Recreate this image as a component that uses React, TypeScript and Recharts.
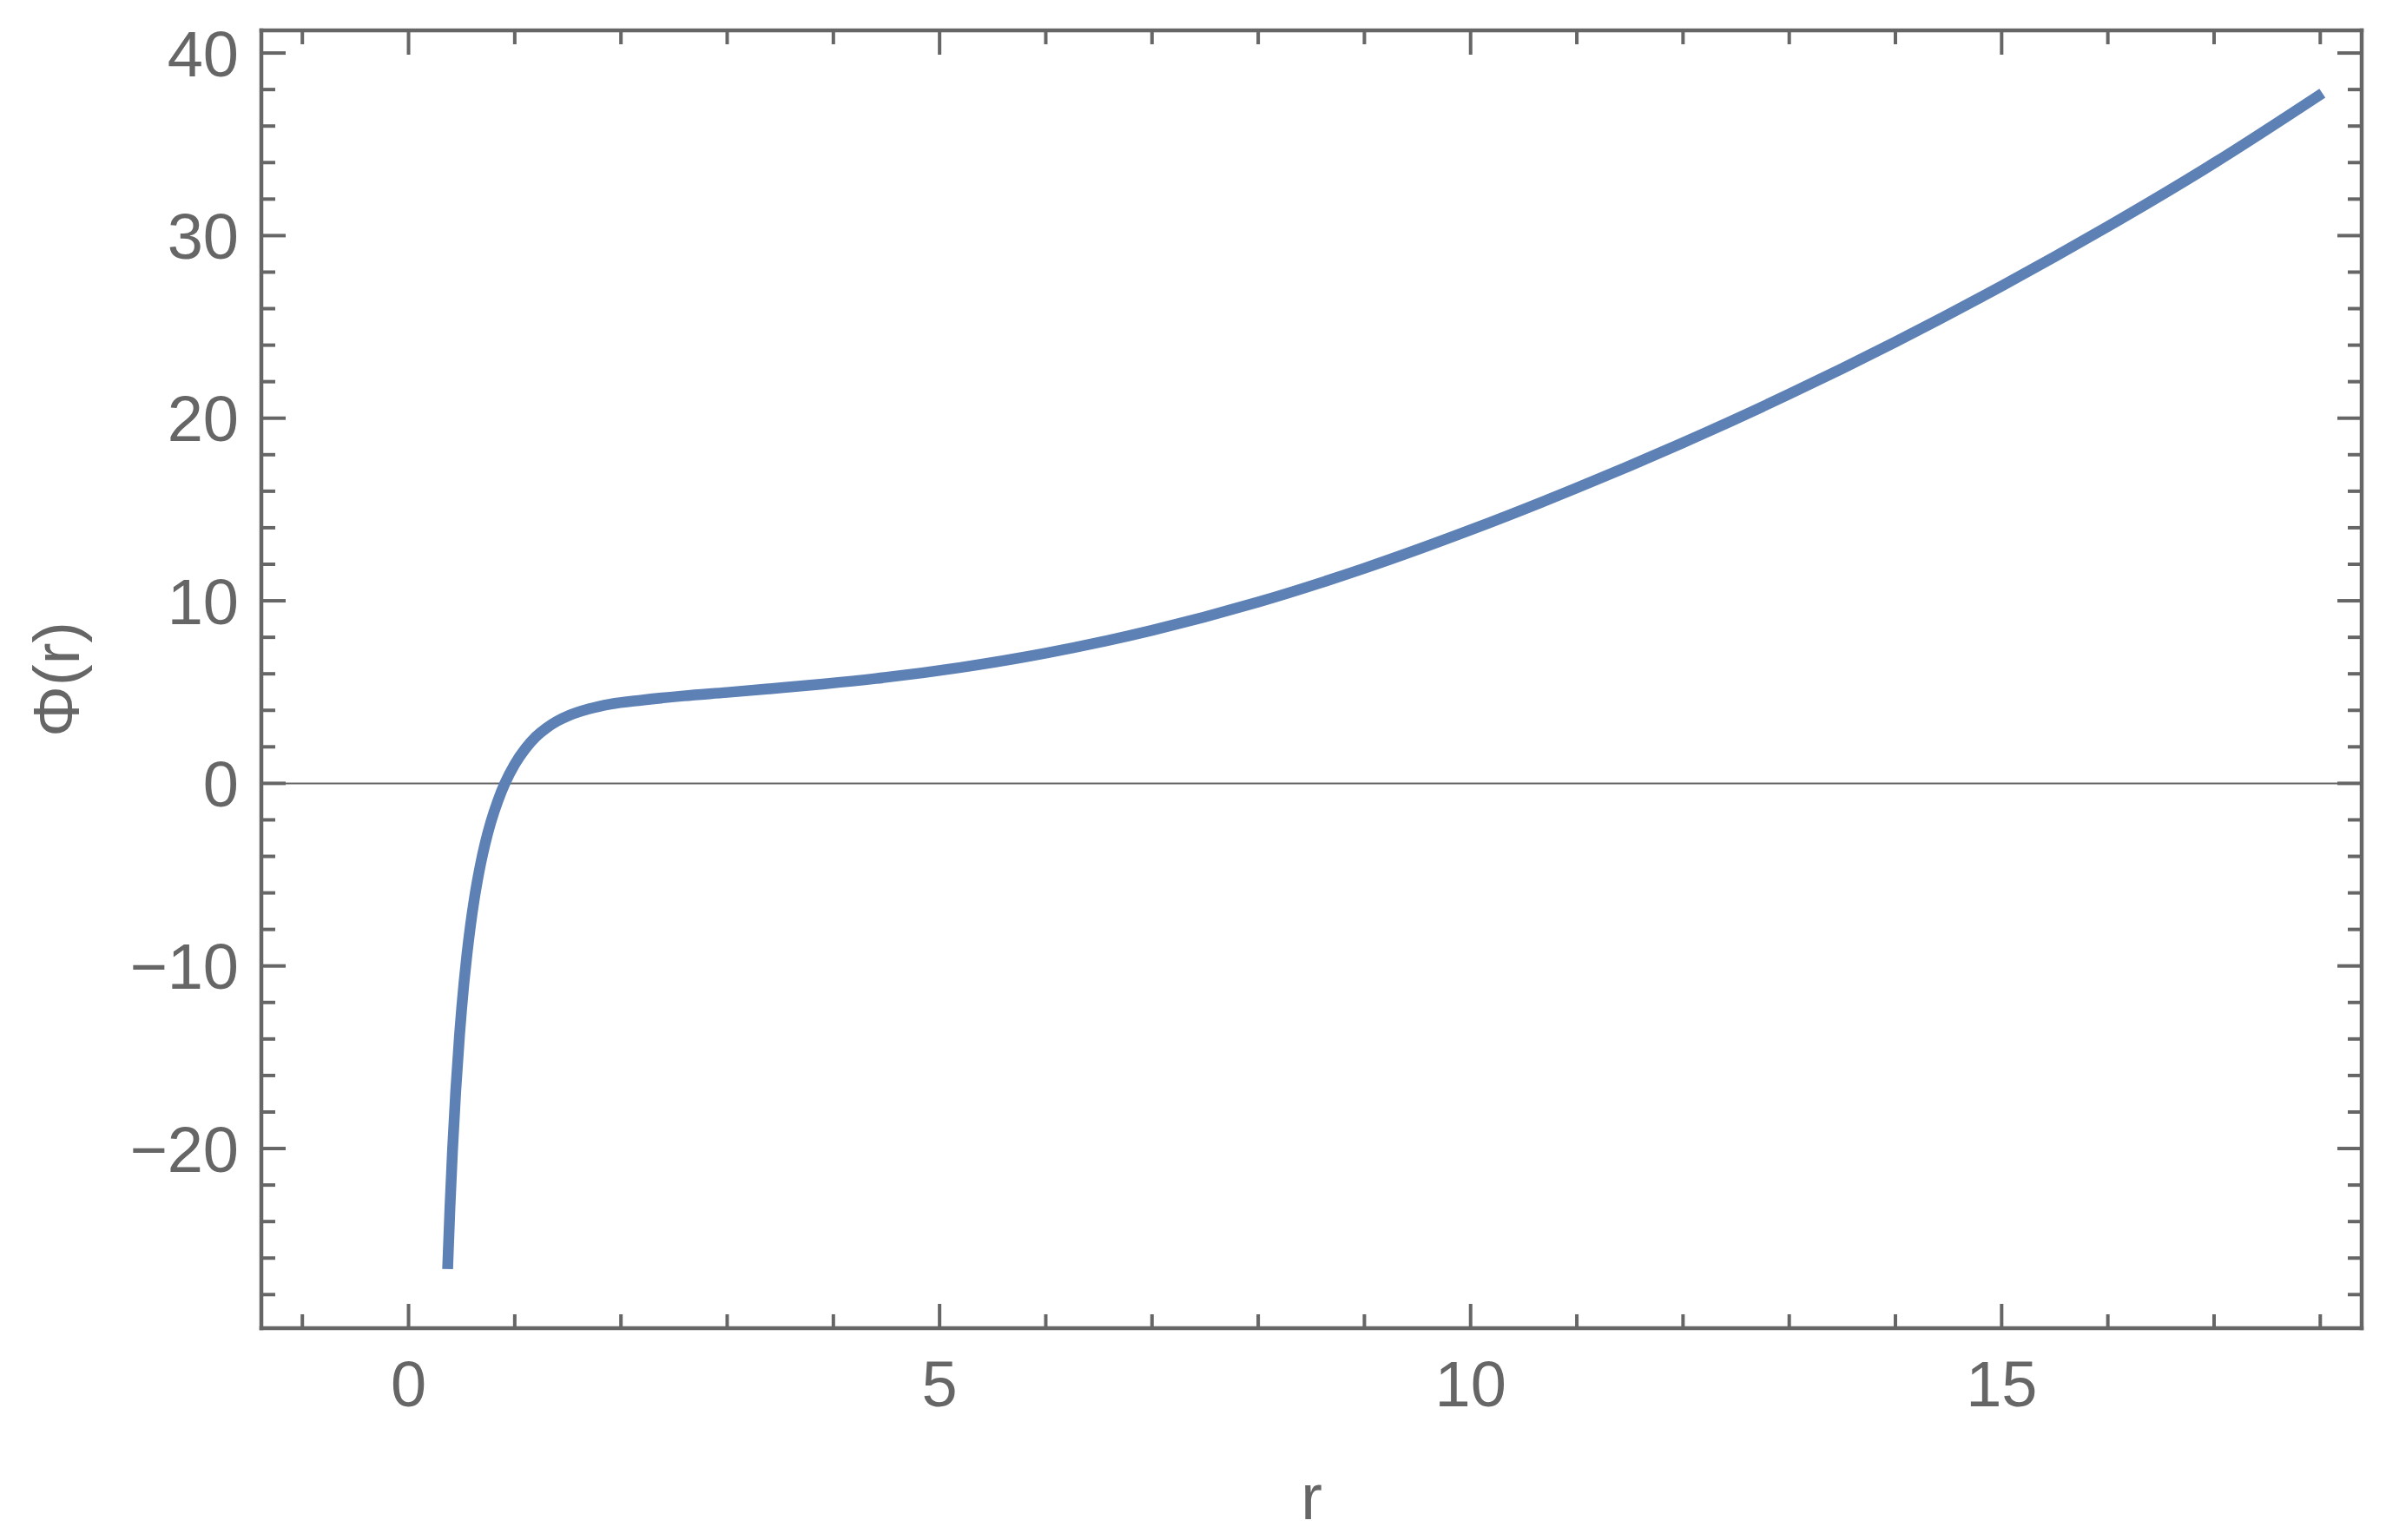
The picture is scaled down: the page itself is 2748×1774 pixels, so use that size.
import { LineChart, Line, XAxis, YAxis, ReferenceLine } from 'recharts';

// values
const R_VALUES = [
  0.368, 0.39, 0.414, 0.444, 0.48, 0.5, 0.523, 0.55, 0.582, 0.62, 0.676, 0.72, 0.776, 0.84, 0.907,
  1.0, 1.1, 1.2, 1.3, 1.4, 1.5, 1.7, 1.9, 2.2, 2.59, 3.0, 3.4, 3.9, 4.4, 5.2, 6, 7, 8, 9, 10, 11, 12,
  13, 14, 15, 16, 17, 18.02,
];
const PHI_VALUES = [
  -26.6, -23.21, -20.09, -16.88, -13.78, -12.33, -10.86, -9.36, -7.83, -6.3, -4.48, -3.32, -2.1, -0.97, 0,
  1.05, 1.9, 2.56, 3.04, 3.41, 3.69, 4.08, 4.34, 4.56, 4.79, 4.98, 5.18, 5.44, 5.74, 6.35, 7.13, 8.38,
  9.93, 11.78, 13.88, 16.18, 18.66, 21.32, 24.18, 27.24, 30.5, 33.97, 37.8,
];

const X_TICKS = [-1, 0, 1, 2, 3, 4, 5, 6, 7, 8, 9, 10, 11, 12, 13, 14, 15, 16, 17, 18];
const X_MAJOR = [0, 5, 10, 15];
const Y_TICKS = [-28, -26, -24, -22, -20, -18, -16, -14, -12, -10, -8, -6, -4, -2, 0, 2, 4, 6, 8, 10, 12, 14, 16, 18, 20, 22, 24, 26, 28, 30, 32, 34, 36, 38, 40];
const Y_MAJOR = [-20, -10, 0, 10, 20, 30, 40];

const data = R_VALUES.map((r, i) => ({ r, phi: PHI_VALUES[i] }));

const GRAY = '#666666';
const FONT = '"Liberation Sans", Arial, sans-serif';
const FONT_SIZE = 74;
const MAJOR_LEN = 28;
const MINOR_LEN = 16;

const fmt = (v: number) => (v < 0 ? `\u2212${Math.abs(v)}` : `${v}`);

const BottomTick = ({ x, y, payload }: any) => {
  const major = X_MAJOR.includes(payload.value);
  return (
    <g>
      <line x1={x} x2={x} y1={y} y2={y - (major ? MAJOR_LEN : MINOR_LEN)} stroke={GRAY} strokeWidth={4} />
      {major && (
        <text x={x} y={y + 90} textAnchor="middle" fill={GRAY} fontSize={FONT_SIZE} fontFamily={FONT}>
          {fmt(payload.value)}
        </text>
      )}
    </g>
  );
};

const TopTick = ({ x, y, payload }: any) => {
  const major = X_MAJOR.includes(payload.value);
  return <line x1={x} x2={x} y1={y} y2={y + (major ? MAJOR_LEN : MINOR_LEN)} stroke={GRAY} strokeWidth={4} />;
};

const LeftTick = ({ x, y, payload }: any) => {
  const major = Y_MAJOR.includes(payload.value);
  return (
    <g>
      <line x1={x} x2={x + (major ? MAJOR_LEN : MINOR_LEN)} y1={y} y2={y} stroke={GRAY} strokeWidth={4} />
      {major && (
        <text x={x - 26} y={y} dy="0.36em" textAnchor="end" fill={GRAY} fontSize={FONT_SIZE} fontFamily={FONT}>
          {fmt(payload.value)}
        </text>
      )}
    </g>
  );
};

const RightTick = ({ x, y, payload }: any) => {
  const major = Y_MAJOR.includes(payload.value);
  return <line x1={x} x2={x - (major ? MAJOR_LEN : MINOR_LEN)} y1={y} y2={y} stroke={GRAY} strokeWidth={4} />;
};

const frameLine = { stroke: GRAY, strokeWidth: 4.5, strokeLinecap: 'square' as const };

export default function App() {
  return (
    <div style={{ position: 'absolute', left: 0, top: 0, background: '#fff' }}>
      <LineChart width={2748} height={1774} data={data} margin={{ top: 0, right: 0, bottom: 0, left: 0 }}>
        <XAxis
          xAxisId="bottom"
          dataKey="r"
          type="number"
          domain={[-1.386, 18.39]}
          allowDataOverflow
          ticks={X_TICKS}
          interval={0}
          height={244}
          tickSize={0}
          tickMargin={0}
          tickLine={false}
          axisLine={frameLine}
          tick={<BottomTick />}
          label={{
            content: (props: any) => {
              const vb = props.viewBox;
              return (
                <text x={vb.x + vb.width / 2} y={vb.y + 220} textAnchor="middle" fill={GRAY} fontSize={FONT_SIZE} fontFamily={FONT}>
                  r
                </text>
              );
            },
          }}
        />
        <XAxis
          xAxisId="top"
          orientation="top"
          dataKey="r"
          type="number"
          domain={[-1.386, 18.39]}
          allowDataOverflow
          ticks={X_TICKS}
          interval={0}
          height={35}
          tickSize={0}
          tickMargin={0}
          tickLine={false}
          axisLine={frameLine}
          tick={<TopTick />}
        />
        <YAxis
          yAxisId="left"
          type="number"
          domain={[-29.84, 41.24]}
          allowDataOverflow
          ticks={Y_TICKS}
          interval={0}
          width={301}
          tickSize={0}
          tickMargin={0}
          tickLine={false}
          axisLine={frameLine}
          tick={<LeftTick />}
          label={{
            content: (props: any) => {
              const vb = props.viewBox;
              const cy = vb.y + vb.height / 2;
              return (
                <text
                  x={91}
                  y={cy}
                  transform={`rotate(-90, 91, ${cy})`}
                  textAnchor="middle"
                  fill={GRAY}
                  fontSize={FONT_SIZE}
                  fontFamily={FONT}
                >
                  Φ(r)
                </text>
              );
            },
          }}
        />
        <YAxis
          yAxisId="right"
          orientation="right"
          type="number"
          domain={[-29.84, 41.24]}
          allowDataOverflow
          ticks={Y_TICKS}
          interval={0}
          width={28}
          tickSize={0}
          tickMargin={0}
          tickLine={false}
          axisLine={frameLine}
          tick={<RightTick />}
        />
        <ReferenceLine xAxisId="bottom" yAxisId="left" y={0} stroke={GRAY} strokeWidth={2} />
        {/* invisible series so the top/right frame axes get a domain */}
        <Line
          xAxisId="top"
          yAxisId="right"
          dataKey="phi"
          stroke="none"
          dot={false}
          activeDot={false}
          isAnimationActive={false}
        />
        <Line
          xAxisId="bottom"
          yAxisId="left"
          type="monotone"
          dataKey="phi"
          stroke="#5E81B5"
          strokeWidth={12.5}
          dot={false}
          activeDot={false}
          isAnimationActive={false}
        />
      </LineChart>
    </div>
  );
}
